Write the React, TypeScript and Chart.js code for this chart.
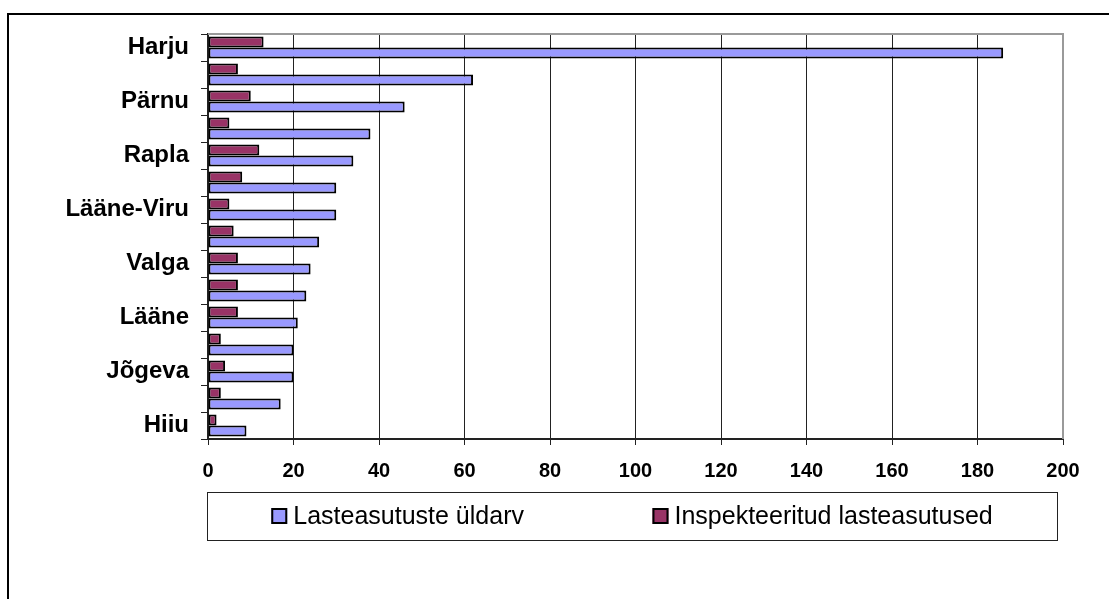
import React, { useEffect, useRef } from "react";
import { Chart, registerables } from "chart.js";

Chart.register(...registerables);

const categories = [
  "Harju", "Tartu", "Pärnu", "Ida-Viru", "Rapla", "Viljandi", "Lääne-Viru",
  "Järva", "Valga", "Saare", "Lääne", "Võru", "Jõgeva", "Põlva", "Hiiu",
];
const totalLabel = "Lasteasutuste üldarv";
const inspectedLabel = "Inspekteeritud lasteasutused";
const totalCounts = [186, 62, 46, 38, 34, 30, 30, 26, 24, 23, 21, 20, 20, 17, 9];
const inspectedCounts = [13, 7, 10, 5, 12, 8, 5, 6, 7, 7, 7, 3, 4, 3, 2];
const xMin = 0;
const xMax = 200;
const xStep = 20;

const BLUE = "#9999FF";
const RED = "#993366";
const FONT = "'Liberation Sans', Arial, sans-serif";

const framePlugin = {
  id: "frame",
  afterDraw(chart: any) {
    const { ctx, chartArea, width, height } = chart;
    ctx.save();
    ctx.fillStyle = "#000";
    ctx.fillRect(7, 13, width - 7, 2);
    ctx.fillRect(7, 13, 2, height - 13);
    ctx.fillStyle = "#9a9a9a";
    ctx.fillRect(chartArea.left, chartArea.top - 1, chartArea.right - chartArea.left + 1, 2);
    ctx.fillRect(chartArea.right - 1, chartArea.top - 1, 2, chartArea.bottom - chartArea.top + 1);

    const boxL = chartArea.left - 1;
    const boxR = chartArea.right - 6;
    const boxT = 492;
    const boxB = 540;
    ctx.strokeStyle = "#222";
    ctx.lineWidth = 1;
    ctx.strokeRect(boxL + 0.5, boxT + 0.5, boxR - boxL, boxB - boxT);

    const items = [
      { label: chart.data.datasets[1].label, color: chart.data.datasets[1].backgroundColor },
      { label: chart.data.datasets[0].label, color: chart.data.datasets[0].backgroundColor },
    ];
    ctx.font = `25px ${FONT}`;
    const sq = 16;
    const gap = 6;
    const widths = items.map((it) => sq + gap + ctx.measureText(it.label).width);
    const free = boxR - boxL - widths.reduce((a, b) => a + b, 0);
    const s = free / (items.length * 2);
    let x = boxL + s;
    const cy = (boxT + boxB) / 2;
    items.forEach((it, i) => {
      ctx.fillStyle = it.color;
      ctx.fillRect(x, cy - sq / 2, sq, sq);
      ctx.strokeStyle = "#000";
      ctx.lineWidth = 2;
      ctx.strokeRect(x + 1, cy - sq / 2 + 1, sq - 2, sq - 2);
      ctx.fillStyle = "#000";
      ctx.textBaseline = "middle";
      ctx.textAlign = "left";
      ctx.fillText(it.label, x + sq + gap, cy + 1);
      x += widths[i] + 2 * s;
    });
    ctx.restore();
  },
};

export default function App() {
  const ref = useRef<HTMLCanvasElement | null>(null);
  useEffect(() => {
    if (!ref.current) return;
    const common = {
      borderColor: "#000",
      borderWidth: 2,
      borderSkipped: false,
      categoryPercentage: 0.82,
      barPercentage: 1,
    };
    const chart = new Chart(ref.current, {
      type: "bar",
      data: {
        labels: categories,
        datasets: [
          { label: inspectedLabel, data: inspectedCounts, backgroundColor: RED, ...common },
          { label: totalLabel, data: totalCounts, backgroundColor: BLUE, ...common },
        ],
      },
      options: {
        indexAxis: "y",
        responsive: false,
        animation: false,
        events: [],
        layout: { padding: { left: 0, top: 34, right: 46, bottom: 100 } },
        plugins: {
          legend: { display: false },
          tooltip: { enabled: false },
        },
        scales: {
          x: {
            min: xMin,
            max: xMax,
            ticks: {
              stepSize: xStep,
              color: "#000",
              font: { family: FONT, size: 20, weight: "bold" },
              padding: 14,
              maxRotation: 0,
            },
            grid: { color: "#222", lineWidth: 1, tickLength: 6 },
            border: { color: "#222", width: 2 },
            afterFit: (scale: any) => {
              scale.height = 60;
            },
          },
          y: {
            ticks: {
              autoSkip: false,
              color: "#000",
              font: { family: FONT, size: 24, weight: "bold" },
              padding: 12,
              callback: (_v: any, i: number) => (i % 2 === 0 ? categories[i] : ""),
            },
            grid: {
              drawOnChartArea: false,
              offset: true,
              color: "#222",
              tickLength: 7,
            },
            border: { color: "#222", width: 2 },
            afterFit: (scale: any) => {
              scale.width = 208;
            },
          },
        },
      },
      plugins: [framePlugin],
    });
    return () => chart.destroy();
  }, []);
  return (
    <canvas
      ref={ref}
      width={1109}
      height={599}
      style={{ position: "fixed", left: 0, top: 0, width: 1109, height: 599 }}
    />
  );
}
